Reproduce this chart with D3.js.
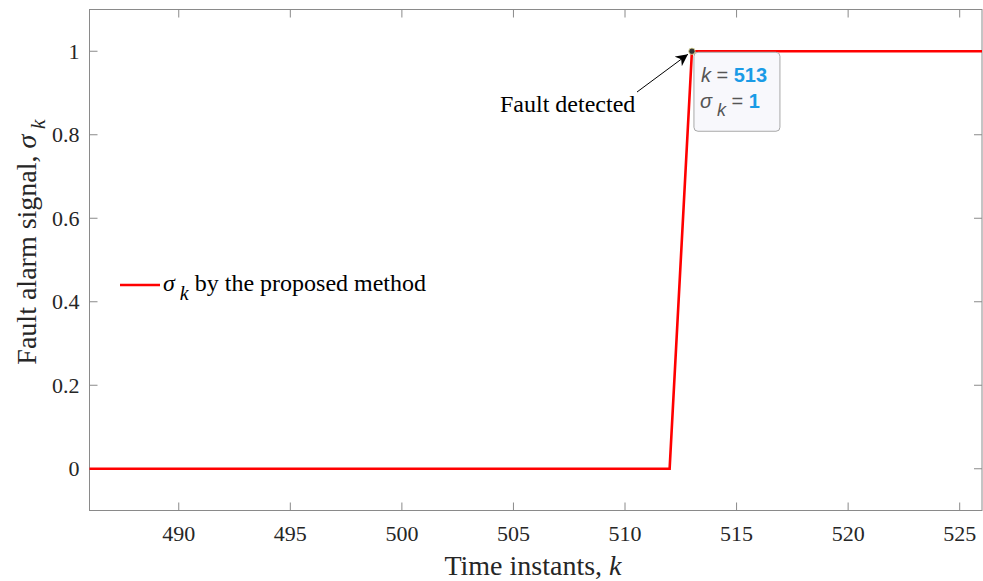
<!DOCTYPE html>
<html>
<head>
<meta charset="utf-8">
<script src="https://cdn.jsdelivr.net/npm/d3@7"></script>
<style>
  body { margin: 0; background: #fff; }
  svg { display: block; }
</style>
</head>
<body>
<div id="chart"></div>
<script>
// data
const timeInstants = [486, 487, 488, 489, 490, 491, 492, 493, 494, 495, 496, 497, 498, 499, 500,
  501, 502, 503, 504, 505, 506, 507, 508, 509, 510, 511, 512, 513, 514, 515, 516, 517, 518, 519,
  520, 521, 522, 523, 524, 525, 526];
const alarmSignal = [0, 0, 0, 0, 0, 0, 0, 0, 0, 0, 0, 0, 0, 0, 0,
  0, 0, 0, 0, 0, 0, 0, 0, 0, 0, 0, 0, 1, 1, 1, 1, 1, 1, 1,
  1, 1, 1, 1, 1, 1, 1];
const xTicks = [490, 495, 500, 505, 510, 515, 520, 525];
const yTicks = [0, 0.2, 0.4, 0.6, 0.8, 1];
const detectK = 513;
const detectSigma = 1;

const width = 983, height = 581;
const margin = { top: 9.5, right: 1, bottom: 70.5, left: 89.5 };
const innerW = width - margin.left - margin.right;
const innerH = height - margin.top - margin.bottom;

const serif = '"Liberation Serif", "Times New Roman", serif';
const sans = '"Liberation Sans", Arial, sans-serif';
const axisGray = '#8a8a8a';
const textGray = '#262626';

const svg = d3.select('#chart').append('svg')
  .attr('width', width)
  .attr('height', height);

const g = svg.append('g')
  .attr('transform', `translate(${margin.left},${margin.top})`);

const x = d3.scaleLinear().domain([486, 526]).range([0, innerW]);
const y = d3.scaleLinear().domain([-0.1, 1.1]).range([innerH, 0]);

const line = d3.line()
  .x((d, i) => x(timeInstants[i]))
  .y(d => y(d));

// axes frame and ticks (box on, ticks mirrored)
const tickLen = 8;
const frame = g.append('g').attr('stroke', axisGray).attr('stroke-width', 1).attr('fill', 'none');
frame.append('rect').attr('x', 0).attr('y', 0).attr('width', innerW).attr('height', innerH);

xTicks.forEach(t => {
  frame.append('line').attr('x1', x(t)).attr('x2', x(t)).attr('y1', innerH).attr('y2', innerH - tickLen);
  frame.append('line').attr('x1', x(t)).attr('x2', x(t)).attr('y1', 0).attr('y2', tickLen);
});
yTicks.forEach(t => {
  frame.append('line').attr('x1', 0).attr('x2', tickLen).attr('y1', y(t)).attr('y2', y(t));
  frame.append('line').attr('x1', innerW).attr('x2', innerW - tickLen).attr('y1', y(t)).attr('y2', y(t));
});

// data line
g.append('path')
  .datum(alarmSignal)
  .attr('fill', 'none')
  .attr('stroke', '#ff0000')
  .attr('stroke-width', 2.6)
  .attr('d', line);

g.selectAll('.xlab')
  .data(xTicks)
  .join('text')
  .attr('x', d => x(d))
  .attr('y', innerH + 30)
  .attr('text-anchor', 'middle')
  .style('font', `22px ${serif}`)
  .attr('fill', textGray)
  .text(d => d);

g.selectAll('.ylab')
  .data(yTicks)
  .join('text')
  .attr('x', -10)
  .attr('y', d => y(d))
  .attr('dy', '0.35em')
  .attr('text-anchor', 'end')
  .style('font', `22px ${serif}`)
  .attr('fill', textGray)
  .text(d => d);

// axis titles
const xt = svg.append('text')
  .attr('x', 533)
  .attr('y', 575)
  .attr('text-anchor', 'middle')
  .style('font', `28px ${serif}`)
  .attr('fill', textGray);
xt.append('tspan').text('Time instants, ');
xt.append('tspan').attr('font-style', 'italic').text('k');

const yt = svg.append('text')
  .attr('transform', 'translate(36,242) rotate(-90)')
  .attr('text-anchor', 'middle')
  .style('font', `28px ${serif}`)
  .attr('fill', textGray);
yt.append('tspan').text('Fault alarm signal, ');
yt.append('tspan').attr('font-style', 'italic').text('σ');
yt.append('tspan').attr('font-style', 'italic').attr('dy', 9).attr('font-size', 22).text(' k');

// legend
const lg = svg.append('g').attr('transform', 'translate(120,285)');
lg.append('line').attr('x1', 0).attr('x2', 40).attr('y1', 0).attr('y2', 0)
  .attr('stroke', '#ff0000').attr('stroke-width', 2.6);
const lt = lg.append('text').attr('x', 43).attr('y', 6)
  .style('font', `24px ${serif}`).attr('fill', '#000');
lt.append('tspan').attr('font-style', 'italic').text('σ');
lt.append('tspan').attr('font-style', 'italic').attr('dy', 9).attr('font-size', 20).text(' k');
lt.append('tspan').attr('dy', -9).text(' by the proposed method');

// annotation: arrow + text
const px = margin.left + x(detectK);
const py = margin.top + y(detectSigma);
svg.append('defs').append('marker')
  .attr('id', 'arrow')
  .attr('viewBox', '0 0 10 10')
  .attr('refX', 10).attr('refY', 5)
  .attr('markerWidth', 12).attr('markerHeight', 12)
  .attr('markerUnits', 'userSpaceOnUse')
  .attr('orient', 'auto')
  .append('path')
  .attr('d', 'M0,0 L10,5 L0,10 L3,5 Z')
  .attr('fill', '#000');

svg.append('line')
  .attr('x1', 637).attr('y1', 92)
  .attr('x2', px - 4).attr('y2', py + 3)
  .attr('stroke', '#000').attr('stroke-width', 1)
  .attr('marker-end', 'url(#arrow)');

svg.append('text')
  .attr('x', 500).attr('y', 112)
  .style('font', `24px ${serif}`)
  .attr('fill', '#000')
  .text('Fault detected');

// datatip
const tip = svg.append('g').attr('transform', `translate(${px + 2},${py + 1})`);
tip.append('rect')
  .attr('x', 0).attr('y', 0).attr('width', 86).attr('height', 79)
  .attr('rx', 4)
  .attr('fill', '#f8f8fc')
  .attr('stroke', '#a8a8a8')
  .attr('stroke-width', 1);

const tl1 = tip.append('text').attr('x', 7).attr('y', 30).style('font', `20px ${sans}`);
tl1.append('tspan').attr('font-style', 'italic').attr('fill', '#555').text('k');
tl1.append('tspan').attr('fill', '#555').text(' = ');
tl1.append('tspan').attr('font-weight', 'bold').attr('fill', '#1a9be6').text(detectK);

const tl2 = tip.append('text').attr('x', 6).attr('y', 56).style('font', `20px ${sans}`);
tl2.append('tspan').attr('font-style', 'italic').attr('fill', '#555').text('σ');
tl2.append('tspan').attr('font-style', 'italic').attr('fill', '#555').attr('dy', 8).attr('font-size', 18).text(' k');
tl2.append('tspan').attr('fill', '#555').attr('dy', -8).text(' = ');
tl2.append('tspan').attr('font-weight', 'bold').attr('fill', '#1a9be6').text(detectSigma);

// data point marker
svg.append('circle')
  .attr('cx', px).attr('cy', py).attr('r', 3.2)
  .attr('fill', '#333')
  .attr('stroke', '#e8e4a0')
  .attr('stroke-width', 0.8);
</script>
</body>
</html>
